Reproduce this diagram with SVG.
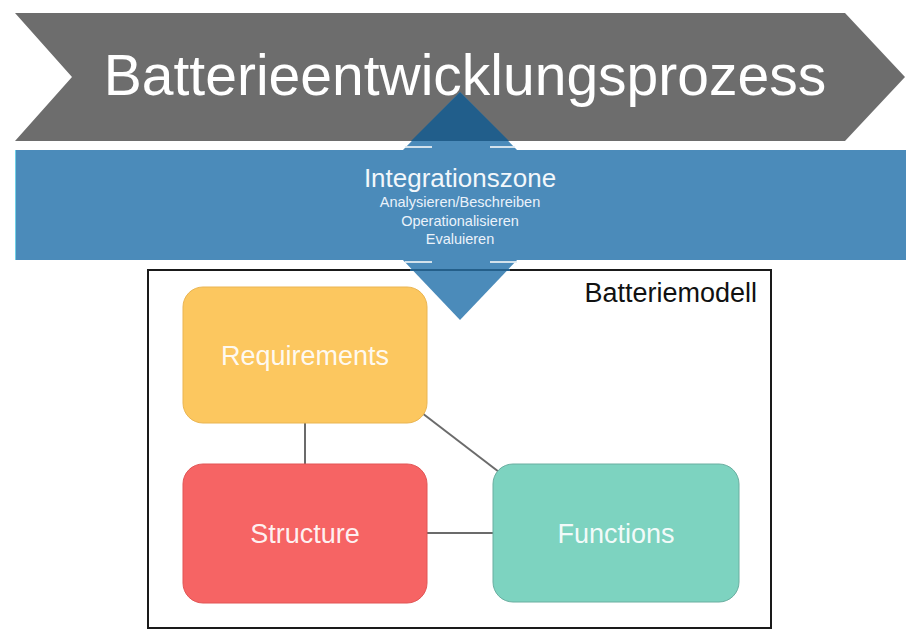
<svg xmlns="http://www.w3.org/2000/svg" width="906" height="633" viewBox="0 0 906 633">
<style>
text{font-family:"Liberation Sans",Arial,sans-serif;text-anchor:middle}
.lbl{fill:#ffffff;fill-opacity:0.92;font-size:27px}
.sub{fill:#eaf2fa;font-size:14.5px}
.conn{stroke:#6b6b6b;stroke-width:2;fill:none}
.wing{stroke:#e4ecf2;stroke-width:1.8}
</style>
<rect width="906" height="633" fill="#ffffff"/>
<g id="process">
<polygon points="15,13 845,13 905,77 845,141 15,141 72,77" fill="#6d6d6d"/>
</g>
<g id="batteriemodell">
<rect x="148" y="270" width="623" height="358" fill="none" stroke="#1a1a1a" stroke-width="2"/>
<text x="757" y="302" style="font-size:27px;fill:#111111;text-anchor:end">Batteriemodell</text>
</g>
<g id="arrow">
<polygon points="460,92 518,151 402,151" fill="#4b8bba"/>
<polygon points="460,92 509,141 411,141" fill="#215e8b"/>
<polygon points="402,259 518,259 460,320" fill="#4b8bba"/>
<line x1="410" y1="270" x2="510" y2="270" stroke="#245f8a" stroke-width="2"/>
<line class="wing" x1="405" y1="147" x2="432" y2="147"/>
<line class="wing" x1="490" y1="147" x2="515" y2="147"/>
</g>
<g id="title">
<text x="465" y="95" style="font-size:57px;fill:#ffffff">Batterieentwicklungsprozess</text>
</g>
<g id="integrationszone">
<rect x="15" y="150" width="891" height="110" fill="#4b8bba"/>
<line x1="15.5" y1="150" x2="15.5" y2="260" stroke="#6fd0e6" stroke-width="1"/>
<line class="wing" x1="405" y1="262" x2="432" y2="262"/>
<line class="wing" x1="490" y1="262" x2="517" y2="262"/>
<text x="460" y="187" style="font-size:26px;fill:#f2f7fb">Integrationszone</text>
<text x="460" y="207" class="sub">Analysieren/Beschreiben</text>
<text x="460" y="226" class="sub">Operationalisieren</text>
<text x="460" y="244" class="sub">Evaluieren</text>
</g>
<g id="connectors">
<line class="conn" x1="305" y1="423" x2="305" y2="464"/>
<line class="conn" x1="422" y1="413" x2="499" y2="472"/>
<line class="conn" x1="427" y1="533" x2="493" y2="533"/>
</g>
<g id="requirements">
<rect x="183" y="287" width="244" height="136" rx="20" fill="#fcc75f" stroke="#eab552" stroke-width="1"/>
<text x="305" y="365" class="lbl">Requirements</text>
</g>
<g id="structure">
<rect x="183" y="464" width="244" height="139" rx="20" fill="#f66464" stroke="#e25555" stroke-width="1"/>
<text x="305" y="543" class="lbl">Structure</text>
</g>
<g id="functions">
<rect x="493" y="464" width="246" height="138" rx="20" fill="#7dd3c0" stroke="#6aaea0" stroke-width="1"/>
<text x="616" y="543" class="lbl">Functions</text>
</g>
</svg>
